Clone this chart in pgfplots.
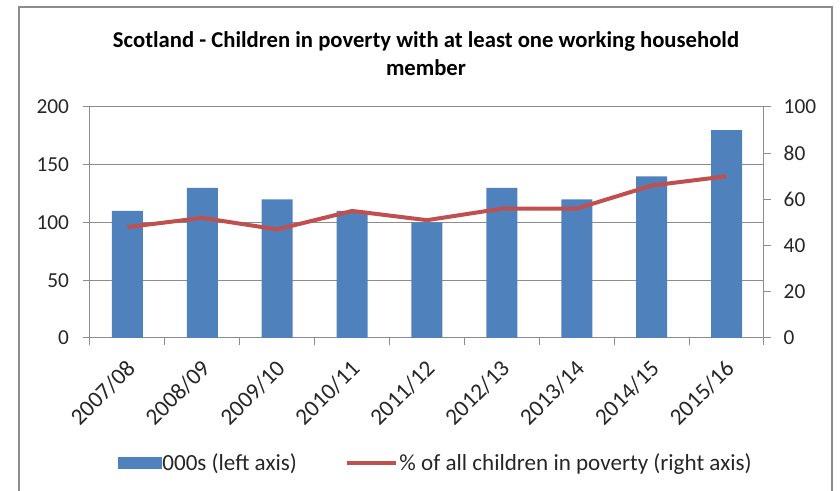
\documentclass[border=0pt]{standalone}
\usepackage{pgfplots}
\pgfplotsset{compat=1.18}
\usepackage{fontspec}
\setmainfont{Carlito}
\definecolor{barblue}{HTML}{4F81BD}
\definecolor{linered}{HTML}{C0504D}
\definecolor{gridgray}{HTML}{8C8C8C}
\definecolor{framegray}{HTML}{8C8C8C}
\begin{document}
\begin{tikzpicture}
\path[use as bounding box] (0,0) rectangle (630pt,368.25pt);
% outer chart frame
\draw[framegray, line width=1.5pt] ({19*0.75pt},0pt) -- ({19*0.75pt},{(491-7)*0.75pt}) -- ({832*0.75pt},{(491-7)*0.75pt}) -- ({832*0.75pt},0pt);
% title
\node[font=\fontsize{17pt}{21pt}\selectfont\bfseries, align=center] at ({426*0.75pt},{(491-54)*0.75pt})
  {Scotland - Children in poverty with at least one working household\\member};
\begin{axis}[
  at={(67.5pt,114.75pt)}, anchor=south west,
  scale only axis, width=505.5pt, height=173.25pt,
  xmin=-0.5, xmax=8.5, ymin=0, ymax=200,
  axis y line*=left, axis x line*=bottom,
  axis line style={gridgray, line width=0.75pt},
  ytick={0,50,...,200},
  ymajorgrids, grid style={gridgray, line width=0.75pt},
  xtick={0,...,8},
  xticklabels={2007/08,2008/09,2009/10,2010/11,2011/12,2012/13,2013/14,2014/15,2015/16},
  minor xtick={-0.5,0.5,...,8.5},
  tick align=outside,
  major tick length=5.25pt, minor tick length=5.25pt,
  major x tick style={draw=none},
  tick style={gridgray, line width=0.75pt},
  /pgf/number format/assume math mode=true,
  ticklabel style={font=\fontsize{16pt}{19pt}\selectfont, text=black!85},
  xticklabel style={font=\fontsize{17.5pt}{20pt}\selectfont, xshift=3.5pt, yshift=-14pt, rotate=45, anchor=east, inner sep=1pt},
  yticklabel style={xshift=-7pt},
  clip=false,
]
\addplot[ybar, bar width=23.25pt, fill=barblue, draw=none] coordinates {
  (0,110) (1,130) (2,120) (3,110) (4,100) (5,130) (6,120) (7,140) (8,180)};
\end{axis}
\begin{axis}[
  at={(67.5pt,114.75pt)}, anchor=south west,
  scale only axis, width=505.5pt, height=173.25pt,
  xmin=-0.5, xmax=8.5, ymin=0, ymax=100,
  axis y line*=right, axis x line=none,
  axis line style={gridgray, line width=0.75pt},
  ytick={0,20,...,100},
  tick align=outside, major tick length=5.25pt,
  tick style={gridgray, line width=0.75pt},
  /pgf/number format/assume math mode=true,
  ticklabel style={font=\fontsize{16pt}{19pt}\selectfont, text=black!85},
  yticklabel style={xshift=6pt},
  legend columns=2,
  legend style={at={(0.5125,-0.541)}, anchor=center, draw=none, fill=none,
    font=\fontsize{17.3pt}{20pt}\selectfont, text=black!85,
    /tikz/every even column/.append style={column sep=35pt},
    inner sep=0pt, row sep=0pt,
    nodes={inner sep=1pt}},
  legend cell align=left,
  clip=false,
]
\addlegendimage{legend image code/.code={\fill[barblue] (0pt,-4.1pt) rectangle (32pt,4.1pt);}}
\addlegendentry{000s (left axis)}
\addplot[linered, line width=3pt, mark=none,
  legend image code/.code={\draw[linered, line width=3pt] (0pt,0pt) -- (37pt,0pt);}] coordinates {
  (0,48) (1,52) (2,47) (3,55) (4,51) (5,56) (6,56) (7,66) (8,70)};
\addlegendentry{\% of all children in poverty (right axis)}
\end{axis}
\end{tikzpicture}
\end{document}
